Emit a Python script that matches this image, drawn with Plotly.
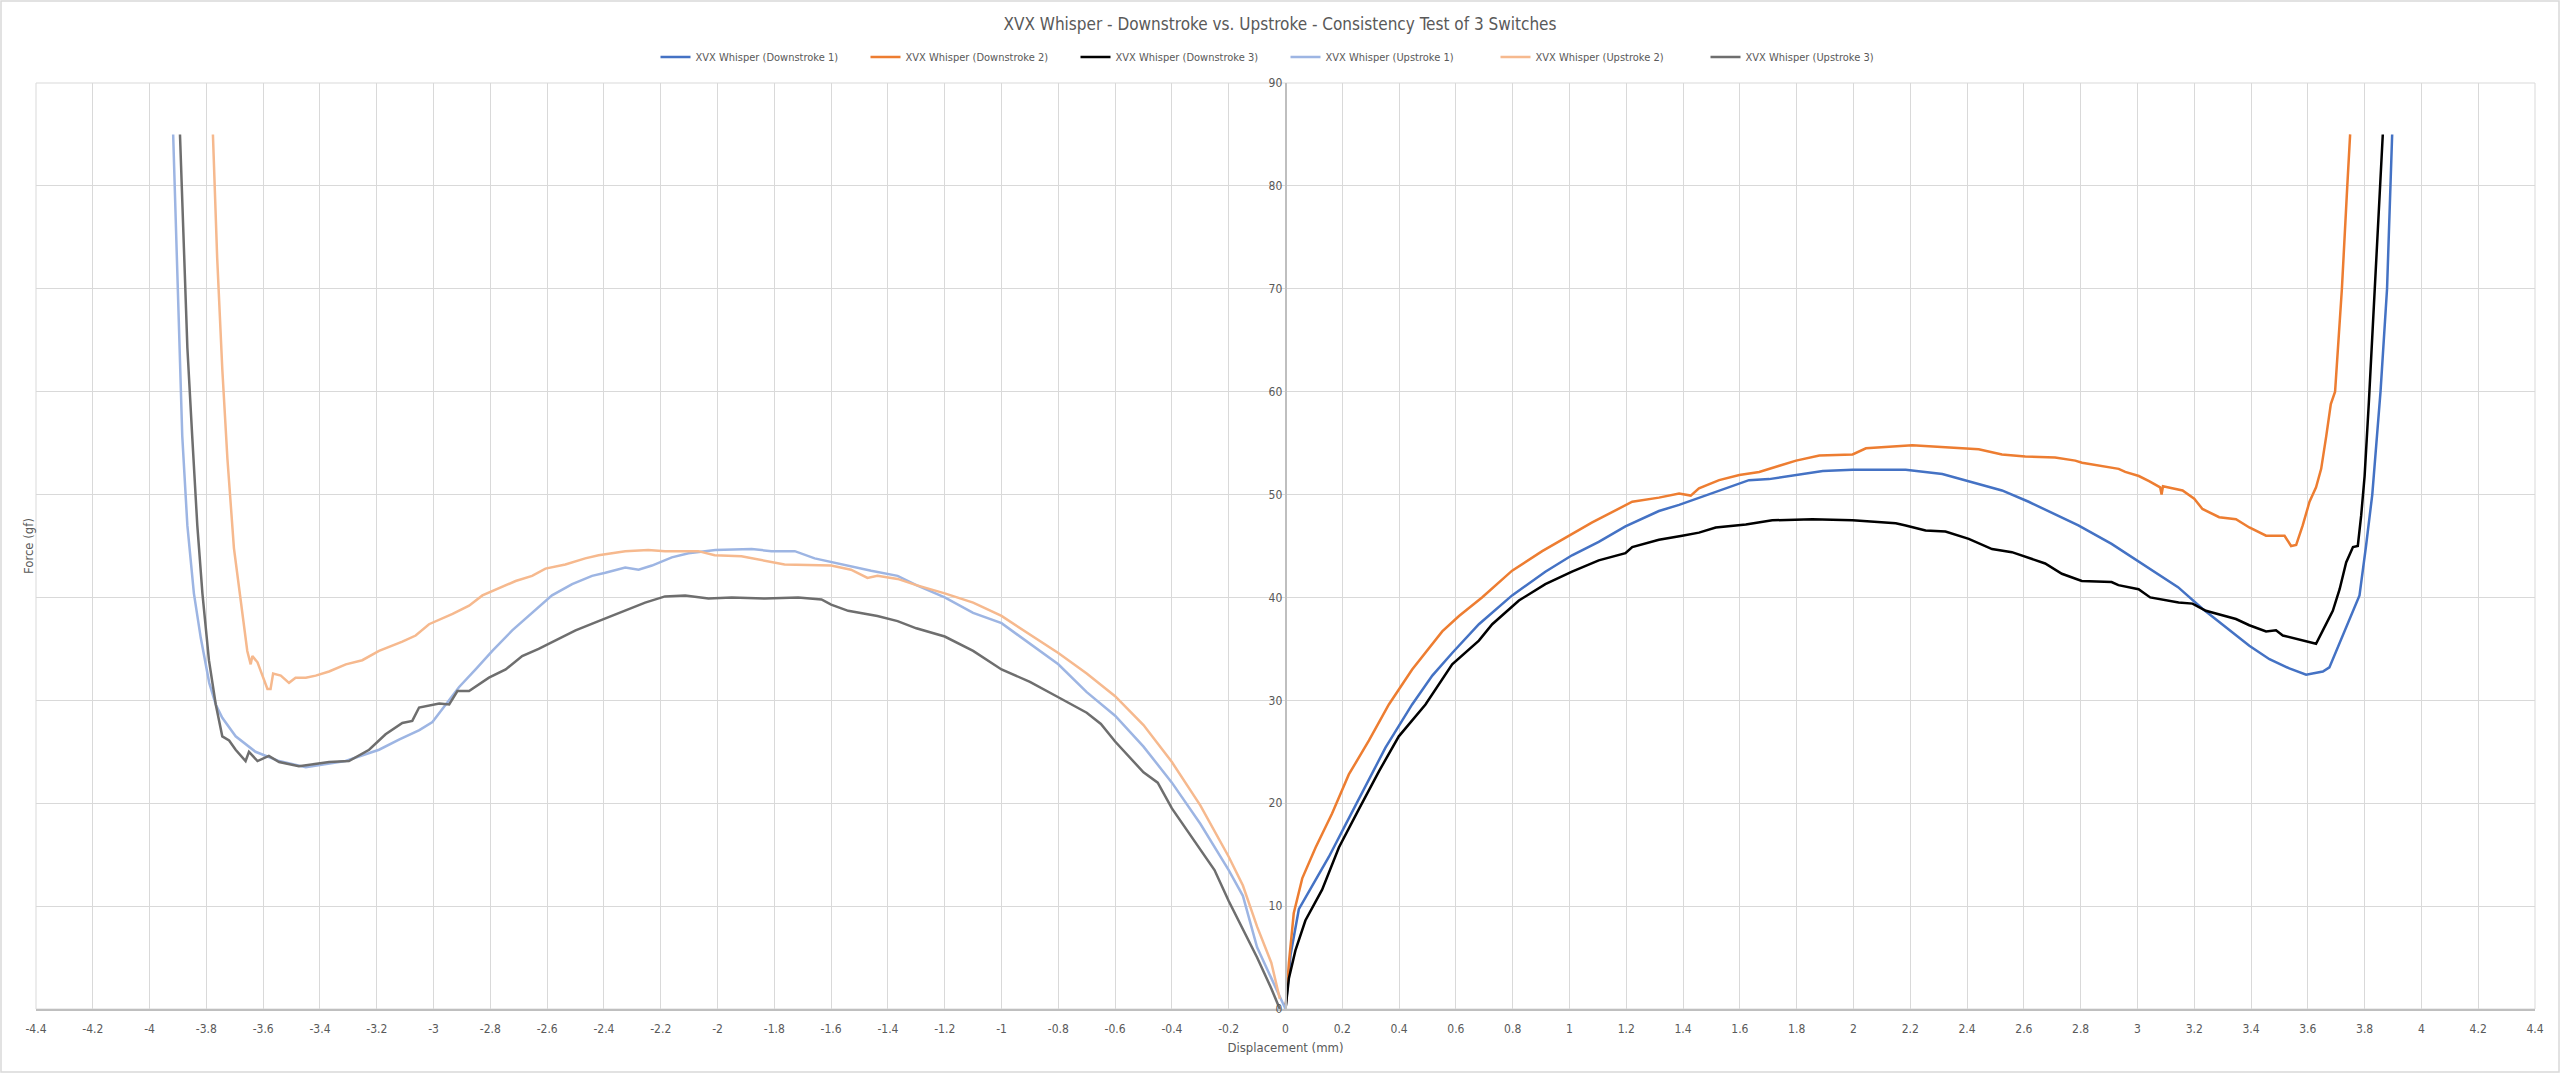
import plotly.graph_objects as go

title = "XVX Whisper - Downstroke vs. Upstroke - Consistency Test of 3 Switches"
names = ["XVX Whisper (Downstroke 1)", "XVX Whisper (Downstroke 2)", "XVX Whisper (Downstroke 3)",
         "XVX Whisper (Upstroke 1)", "XVX Whisper (Upstroke 2)", "XVX Whisper (Upstroke 3)"]
colors = ["#4472C4", "#ED7D31", "#000000", "#9DB5E3", "#F6B98E", "#6E6E6E"]

x_ticks = [round(-4.4 + 0.2 * i, 1) for i in range(45)]
y_ticks = list(range(0, 100, 10))

d1_x = [0, 0.018, 0.047, 0.094, 0.153, 0.211, 0.282, 0.352, 0.446, 0.517, 0.587, 0.681, 0.798, 0.915, 1.009,
        1.103, 1.197, 1.315, 1.386, 1.456, 1.527, 1.632, 1.703, 1.798, 1.892, 1.997, 2.184, 2.313, 2.395,
        2.523, 2.617, 2.71, 2.792, 2.909, 3.026, 3.143, 3.229, 3.288, 3.394, 3.465, 3.535, 3.594, 3.653,
        3.676, 3.724, 3.782, 3.805, 3.827, 3.856, 3.879, 3.897]
d1_y = [0, 5.3, 9.7, 12.0, 14.8, 17.9, 21.6, 25.4, 29.6, 32.4, 34.6, 37.4, 40.2, 42.5, 44.1,
        45.4, 46.9, 48.4, 49.0, 49.7, 50.4, 51.4, 51.5, 51.9, 52.3, 52.4, 52.4, 52.0, 51.4,
        50.4, 49.3, 48.1, 47.0, 45.2, 43.1, 41.0, 38.9, 37.6, 35.3, 34.0, 33.1, 32.5, 32.8,
        33.2, 36.3, 40.2, 45.0, 50.0, 60.0, 70.0, 85.0]

d2_x = [0, 0.012, 0.029, 0.059, 0.106, 0.164, 0.223, 0.294, 0.364, 0.446, 0.552, 0.611, 0.692, 0.798, 0.904,
        0.998, 1.08, 1.221, 1.315, 1.386, 1.427, 1.456, 1.527, 1.598, 1.668, 1.739, 1.798, 1.88, 1.997,
        2.044, 2.091, 2.207, 2.324, 2.441, 2.523, 2.605, 2.71, 2.781, 2.805, 2.887, 2.934, 2.957, 3.005,
        3.041, 3.08, 3.085, 3.09, 3.159, 3.2, 3.229, 3.288, 3.347, 3.394, 3.453, 3.518, 3.541, 3.559,
        3.582, 3.606, 3.629, 3.647, 3.665, 3.681, 3.696, 3.72, 3.739, 3.749]
d2_y = [0, 4.5, 9.3, 12.7, 15.7, 19.0, 22.8, 26.1, 29.6, 33.0, 36.7, 38.2, 40.0, 42.6, 44.5,
        46.0, 47.3, 49.3, 49.7, 50.1, 49.9, 50.6, 51.4, 51.9, 52.2, 52.8, 53.3, 53.8, 53.9,
        54.5, 54.6, 54.8, 54.6, 54.4, 53.9, 53.7, 53.6, 53.3, 53.1, 52.7, 52.5, 52.2, 51.8,
        51.3, 50.7, 50.0, 50.8, 50.4, 49.6, 48.6, 47.8, 47.6, 46.8, 46.0, 46.0, 45.0, 45.1,
        47.0, 49.3, 50.7, 52.5, 55.7, 58.8, 60.0, 70.0, 80.0, 85.0]

d3_x = [0, 0.012, 0.035, 0.07, 0.129, 0.188, 0.258, 0.329, 0.399, 0.493, 0.587, 0.681, 0.728, 0.822, 0.915,
        1.009, 1.103, 1.197, 1.221, 1.315, 1.397, 1.456, 1.515, 1.621, 1.714, 1.796, 1.855, 1.997, 2.149,
        2.184, 2.254, 2.324, 2.406, 2.488, 2.558, 2.675, 2.734, 2.804, 2.909, 2.933, 3.004, 3.045, 3.145,
        3.194, 3.241, 3.347, 3.394, 3.453, 3.488, 3.512, 3.582, 3.629, 3.653, 3.688, 3.712, 3.735, 3.759,
        3.776, 3.788, 3.8, 3.815, 3.836, 3.864]
d3_y = [0, 3.0, 5.7, 8.6, 11.6, 15.7, 19.4, 23.1, 26.5, 29.6, 33.5, 35.8, 37.4, 39.7, 41.3,
        42.5, 43.6, 44.3, 44.9, 45.6, 46.0, 46.3, 46.8, 47.1, 47.5, 47.6, 47.6, 47.5, 47.2,
        47.0, 46.5, 46.4, 45.7, 44.7, 44.4, 43.3, 42.3, 41.6, 41.5, 41.2, 40.8, 40.0, 39.5,
        39.4, 38.7, 37.9, 37.3, 36.7, 36.8, 36.3, 35.8, 35.5, 36.8, 38.7, 40.8, 43.4, 44.9,
        45.0, 48.0, 51.8, 59.0, 70.0, 85.0]

u1_x = [-3.917, -3.903, -3.894, -3.885, -3.867, -3.844, -3.82, -3.79, -3.767, -3.744, -3.697, -3.627, -3.544,
        -3.45, -3.31, -3.192, -3.12, -3.05, -3.004, -2.945, -2.91, -2.852, -2.793, -2.723, -2.653, -2.583,
        -2.512, -2.442, -2.395, -2.325, -2.278, -2.231, -2.161, -2.102, -2.008, -1.88, -1.81, -1.728, -1.658,
        -1.564, -1.459, -1.366, -1.3, -1.2, -1.1, -1.0, -0.9, -0.8, -0.7, -0.6, -0.5, -0.4, -0.3, -0.2,
        -0.15, -0.1, -0.05, 0]
u1_y = [85, 73, 64.3, 55.7, 47, 40.4, 36.1, 31.7, 29.6, 28.3, 26.5, 25.0, 24.1,
        23.5, 24.1, 25.2, 26.2, 27.1, 27.9, 30.1, 31.3, 33.0, 34.8, 36.8, 38.5, 40.2,
        41.3, 42.1, 42.4, 42.9, 42.7, 43.1, 43.9, 44.3, 44.6, 44.7, 44.5, 44.5, 43.8,
        43.2, 42.6, 42.1, 41.2, 40.0, 38.5, 37.5, 35.5, 33.5, 30.8, 28.5, 25.5, 22, 18, 13.5,
        11, 6, 3, 0]

u2_x = [-3.777, -3.762, -3.744, -3.726, -3.703, -3.674, -3.656, -3.644, -3.638, -3.62, -3.603, -3.585, -3.574,
        -3.565, -3.538, -3.509, -3.486, -3.45, -3.415, -3.368, -3.309, -3.251, -3.192, -3.11, -3.063, -3.016,
        -2.933, -2.875, -2.828, -2.77, -2.711, -2.653, -2.606, -2.536, -2.466, -2.419, -2.325, -2.244, -2.185,
        -2.068, -2.01, -1.916, -1.846, -1.764, -1.6, -1.53, -1.472, -1.437, -1.366, -1.3, -1.2, -1.1, -1.0,
        -0.9, -0.8, -0.7, -0.6, -0.5, -0.4, -0.3, -0.2, -0.15, -0.1, -0.05, -0.02]
u2_y = [85, 73, 62.2, 53.5, 44.8, 38.3, 34.8, 33.5, 34.3, 33.7, 32.4, 31.1, 31.1,
        32.6, 32.4, 31.7, 32.2, 32.2, 32.4, 32.8, 33.5, 33.9, 34.8, 35.7, 36.3, 37.4,
        38.4, 39.2, 40.2, 40.9, 41.6, 42.1, 42.8, 43.2, 43.8, 44.1, 44.5, 44.6, 44.5,
        44.5, 44.1, 44.0, 43.6, 43.2, 43.1, 42.7, 41.9, 42.1, 41.8, 41.2, 40.4, 39.5, 38.2,
        36.4, 34.6, 32.6, 30.4, 27.6, 24, 19.8, 14.8, 12, 8, 4.5, 1]

u3_x = [-3.893, -3.879, -3.867, -3.85, -3.832, -3.814, -3.791, -3.767, -3.744, -3.72, -3.697, -3.662, -3.65,
        -3.62, -3.58, -3.544, -3.474, -3.368, -3.298, -3.227, -3.169, -3.11, -3.075, -3.051, -2.98, -2.945,
        -2.916, -2.875, -2.805, -2.746, -2.688, -2.63, -2.559, -2.5, -2.419, -2.325, -2.255, -2.185, -2.114,
        -2.032, -1.95, -1.833, -1.716, -1.634, -1.6, -1.54, -1.48, -1.437, -1.366, -1.3, -1.2, -1.1, -1.0,
        -0.9, -0.8, -0.7, -0.65, -0.6, -0.5, -0.45, -0.4, -0.3, -0.25, -0.2, -0.1, -0.05, -0.02]
u3_y = [85, 73, 64.3, 55.7, 47, 40.4, 33.9, 29.6, 26.5, 26.1, 25.2, 24.1, 25.0,
        24.1, 24.6, 24.0, 23.6, 24.0, 24.1, 25.2, 26.7, 27.8, 28.0, 29.3, 29.7, 29.6,
        30.9, 30.9, 32.2, 33.0, 34.3, 35.0, 36.0, 36.8, 37.7, 38.7, 39.5, 40.1, 40.2,
        39.9, 40.0, 39.9, 40.0, 39.8, 39.3, 38.7, 38.4, 38.2, 37.7, 37.0, 36.2, 34.8, 33,
        31.8, 30.3, 28.8, 27.7, 26, 23, 22, 19.5, 15.5, 13.5, 10.5, 5, 2, 0]

series = [(d1_x, d1_y), (d2_x, d2_y), (d3_x, d3_y), (u1_x, u1_y), (u2_x, u2_y), (u3_x, u3_y)]

FONT = "DejaVu Sans Condensed, Roboto, sans-serif"
W, H = 2560, 1073
ML, MR, MT, MB = 36, 25, 83, 64
PW = W - ML - MR
PH = H - MT - MB

fig = go.Figure()
for (xs, ys), name, col in zip(series, names, colors):
    fig.add_trace(go.Scatter(x=xs, y=ys, mode="lines", name=name,
                             line=dict(color=col, width=2.5)))

fig.update_layout(
    width=W, height=H,
    margin=dict(l=ML, r=MR, t=MT, b=MB),
    paper_bgcolor="white", plot_bgcolor="white",
    font=dict(family=FONT, color="#595959", size=12),
    title=dict(text=title, x=0.5, xanchor="center", y=1 - 24 / H, yanchor="middle",
               font=dict(family=FONT, size=17, color="#595959")),
    legend=dict(orientation="h", x=0.5, xanchor="center", y=1 + (MT - 57) / PH, yanchor="middle",
                font=dict(family=FONT, size=11, color="#595959"), entrywidth=165, entrywidthmode="pixels",
                itemwidth=30, bgcolor="rgba(0,0,0,0)"),
    showlegend=True,
)
fig.update_xaxes(range=[-4.4, 4.4], tickvals=x_ticks, ticktext=[("%g" % v) for v in x_ticks],
                 showgrid=True, gridcolor="#d9d9d9", gridwidth=1, zeroline=False,
                 showline=True, linecolor="#bfbfbf", linewidth=1.5, ticks="", ticklabelstandoff=8,
                 tickfont=dict(family=FONT, size=12, color="#595959"),
                 title=dict(text="Displacement (mm)", standoff=8,
                            font=dict(family=FONT, size=13, color="#595959")))
fig.update_yaxes(range=[0, 90], tickvals=y_ticks, showgrid=True, gridcolor="#d9d9d9", gridwidth=1,
                 zeroline=False, showline=True, linecolor="#bfbfbf", linewidth=1.5,
                 anchor="free", position=0.5, ticks="",
                 tickfont=dict(family=FONT, size=12, color="#595959"))

fig.add_annotation(text="Force (gf)", textangle=-90, xref="paper", yref="paper",
                   x=(28 - ML) / PW, y=0.5, xanchor="center", yanchor="middle", showarrow=False,
                   font=dict(family=FONT, size=13, color="#595959"))
# plot frame
fig.add_shape(type="rect", xref="paper", yref="paper", x0=0, x1=1, y0=0, y1=1,
              line=dict(color="#d9d9d9", width=1), layer="below")
# chart border
fig.add_shape(type="rect", xref="paper", yref="paper",
              x0=(1 - ML) / PW, x1=(W - 1 - ML) / PW, y0=-(MB - 1) / PH, y1=1 + (MT - 1) / PH,
              line=dict(color="#d9d9d9", width=1.5))

fig.write_html("out.html")
